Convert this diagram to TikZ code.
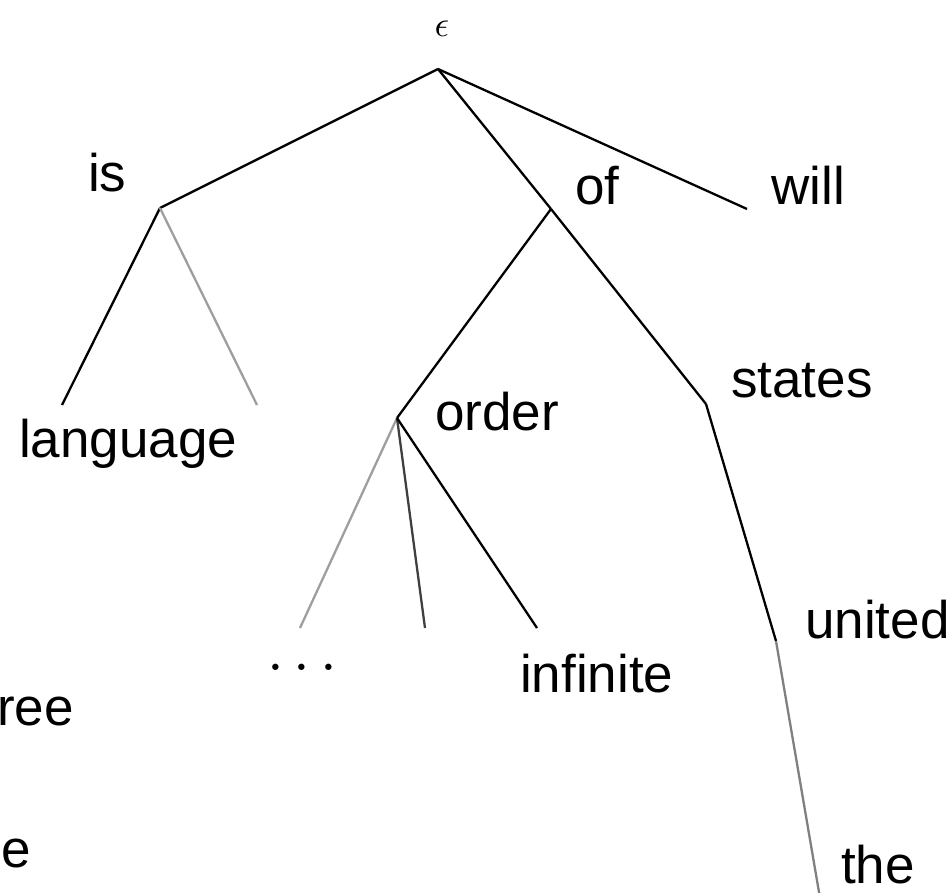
\documentclass[tikz,border=0pt]{standalone}
\usepackage{graphicx}
\usepackage{fontspec}
\setmainfont{Liberation Sans}
\begin{document}
\begin{tikzpicture}[x=1pt,y=-1pt,
  word/.style={inner sep=0pt,font=\fontsize{53}{60}\selectfont},
  edge/.style={line width=2.3pt,black},
  faint/.style={line width=2.3pt,black!38},
  mid/.style={line width=2.3pt,black!50},
  dark/.style={line width=2.3pt,black!75}]
\useasboundingbox (0,0) rectangle (951,893);

% branching points of the tree
\coordinate (root)   at (438,69);
\coordinate (is)     at (160,208);
\coordinate (of)     at (551,209);
\coordinate (will)   at (747,209);
\coordinate (lang)   at (62,405);
\coordinate (isx)    at (257,405);
\coordinate (order)  at (397,418);
\coordinate (states) at (706,404);
\coordinate (dots)   at (300,628);
\coordinate (omid)   at (425,628);
\coordinate (inf)    at (537,628);
\coordinate (united) at (776,641);
\coordinate (the)    at (820,898);

% edges
\draw[edge] (root) -- (is);
\draw[edge] (root) -- (of);
\draw[edge] (root) -- (will);
\draw[edge] (is) -- (lang);
\draw[faint] (is) -- (isx);
\draw[edge] (of) -- (order);
\draw[edge] (of) -- (states);
\draw[faint] (order) -- (dots);
\draw[dark] (order) -- (omid);
\draw[edge] (order) -- (inf);
\draw[edge] (states) -- (united);
\draw[mid] (united) -- (the);

% labels
\node[inner sep=0pt,anchor=center] (leps) at (442,29) {\fontsize{10}{12}\selectfont\scalebox{3.6}{$\epsilon$}};
\node[word,anchor=base west] (lis) at (88,192) {is};
\node[word,anchor=base west] (lof) at (575,205) {of};
\node[word,anchor=base west] (lwill) at (771,205) {will};
\node[word,anchor=base west] (llang) at (19,457) {language};
\node[word,anchor=base west] (lorder) at (435,431) {order};
\node[word,anchor=base west] (lstates) at (731,398) {states};
\node[word,anchor=base west] (lunited) at (805,638) {united};
\node[word,anchor=base west] (linf) at (520,692) {infinite};
\node[word,anchor=base west] (lthe) at (841,883) {the};
\node[inner sep=0pt,anchor=center] (ldots) at (302,667) {\fontsize{10}{12}\selectfont\scalebox{6}{$\ldots$}};
\node[word,anchor=base east] (lree) at (74,725) {ree};
\node[word,anchor=base east] (le) at (31,867) {e};
\end{tikzpicture}
\end{document}
